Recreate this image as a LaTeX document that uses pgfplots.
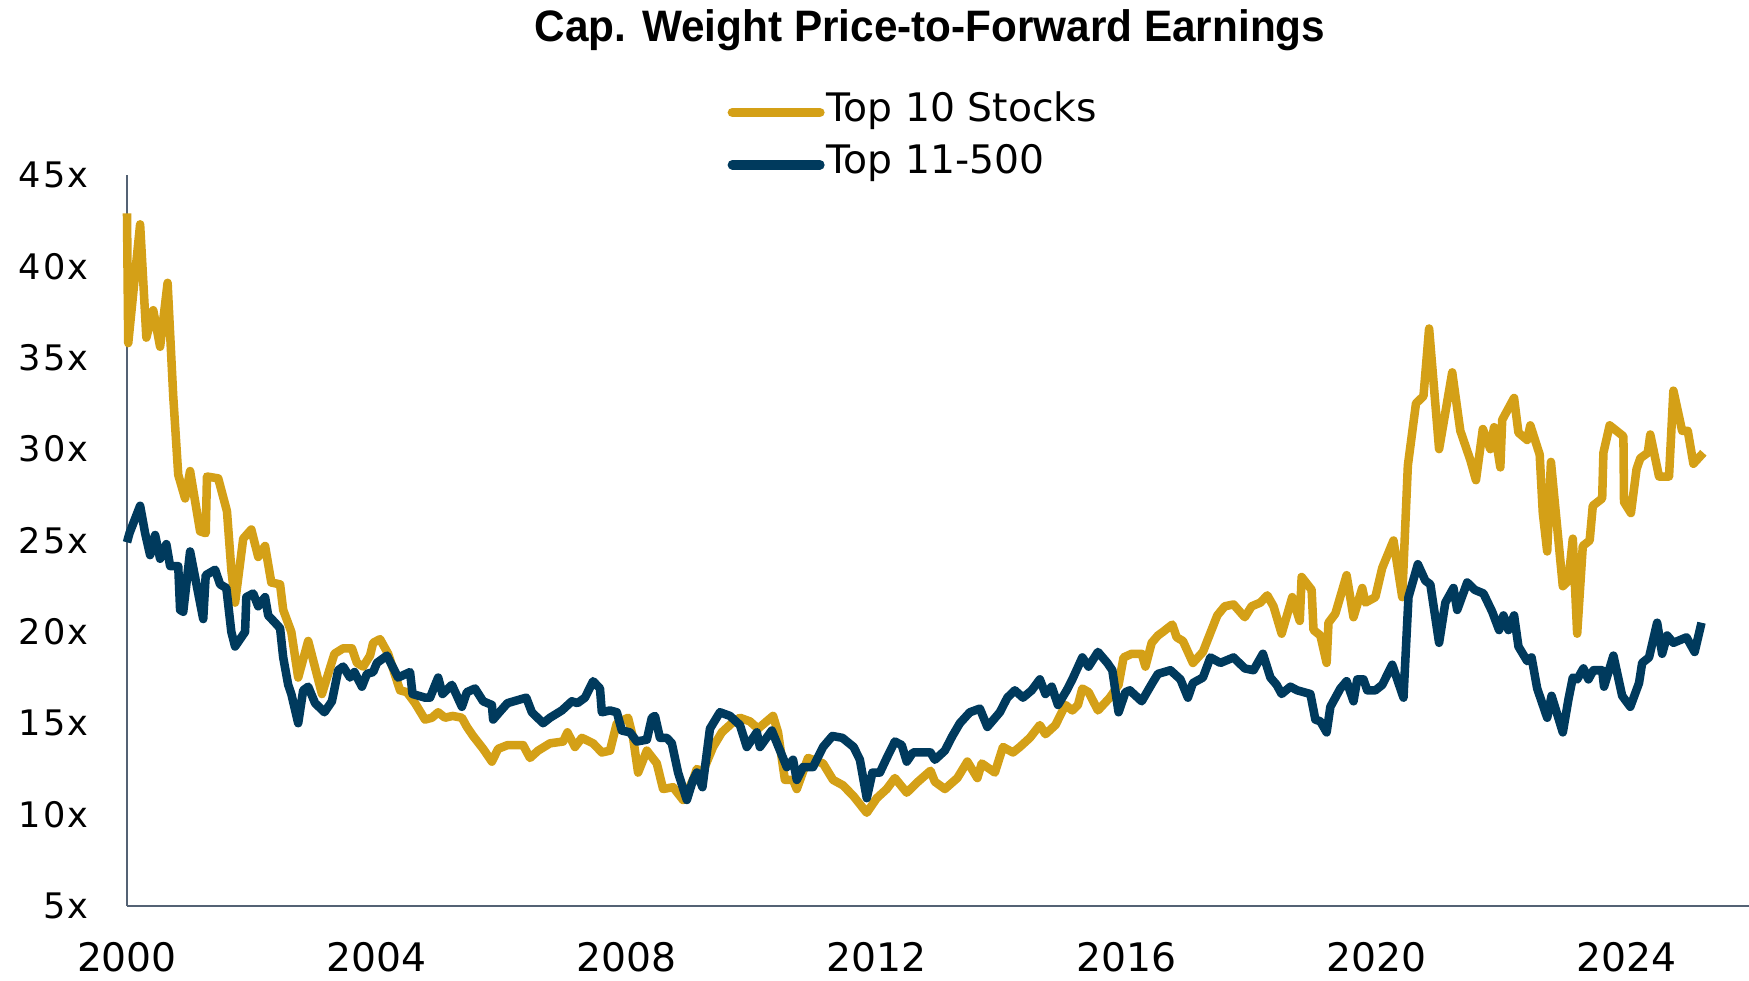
\documentclass[border=0pt]{standalone}
\usepackage{fontspec}
\setmainfont{DejaVu Sans}
\newfontfamily\titlefont[FakeStretch=0.96]{Liberation Sans}
\newfontfamily\ytickfont[LetterSpace=6]{DejaVu Sans}
\usepackage{pgfplots}
\usepackage{pgfplotstable}
\pgfplotsset{compat=1.18}

\definecolor{topten}{RGB}{212,160,23}
\definecolor{rest}{RGB}{0,58,93}
\definecolor{axisgray}{RGB}{84,98,116}

% Top 10 stocks, forward P/E
\pgfplotstableread{
year val
2000.00 42.9
2000.02 35.8
2000.21 42.3
2000.31 36.1
2000.42 37.6
2000.53 35.6
2000.65 39.1
2000.74 32.9
2000.82 28.6
2000.93 27.3
2001.01 28.8
2001.17 25.5
2001.26 25.4
2001.28 28.5
2001.46 28.4
2001.60 26.6
2001.67 23.4
2001.73 21.6
2001.86 25.1
2001.99 25.6
2002.10 24.1
2002.21 24.7
2002.31 22.7
2002.45 22.6
2002.50 21.2
2002.63 20.0
2002.74 17.5
2002.90 19.5
2003.12 16.6
2003.32 18.8
2003.46 19.1
2003.60 19.1
2003.68 18.3
2003.78 18.1
2003.89 18.7
2003.94 19.4
2004.05 19.6
2004.18 18.8
2004.37 16.8
2004.48 16.7
2004.61 16.1
2004.77 15.2
2004.88 15.3
2004.98 15.6
2005.09 15.3
2005.21 15.4
2005.36 15.3
2005.44 14.8
2005.54 14.3
2005.70 13.6
2005.84 12.9
2005.94 13.6
2006.09 13.8
2006.34 13.8
2006.45 13.1
2006.58 13.5
2006.77 13.9
2006.98 14.0
2007.05 14.5
2007.17 13.7
2007.28 14.2
2007.46 13.9
2007.60 13.4
2007.73 13.5
2007.84 15.0
2008.02 15.3
2008.10 14.2
2008.18 12.3
2008.32 13.5
2008.48 12.8
2008.58 11.4
2008.74 11.5
2008.90 10.8
2009.06 11.9
2009.12 12.5
2009.21 12.3
2009.38 13.7
2009.52 14.5
2009.68 15.0
2009.81 15.3
2009.97 15.1
2010.10 14.7
2010.34 15.4
2010.42 14.5
2010.53 11.9
2010.66 11.9
2010.72 11.4
2010.90 13.1
2011.14 12.8
2011.30 11.9
2011.46 11.6
2011.63 11.0
2011.84 10.1
2012.00 10.9
2012.16 11.4
2012.29 12.0
2012.48 11.2
2012.66 11.8
2012.86 12.4
2012.93 11.8
2013.09 11.4
2013.29 12.0
2013.45 12.9
2013.61 12.0
2013.68 12.8
2013.89 12.3
2014.02 13.7
2014.18 13.4
2014.29 13.7
2014.45 14.2
2014.61 14.9
2014.70 14.4
2014.86 14.9
2015.02 16.0
2015.13 15.7
2015.22 16.0
2015.29 16.9
2015.39 16.7
2015.54 15.7
2015.73 16.4
2015.87 17.1
2015.95 18.6
2016.08 18.8
2016.24 18.8
2016.30 18.1
2016.40 19.4
2016.50 19.8
2016.58 20.0
2016.73 20.4
2016.80 19.7
2016.90 19.5
2017.06 18.3
2017.22 18.9
2017.30 19.6
2017.45 20.9
2017.57 21.4
2017.71 21.5
2017.89 20.8
2018.00 21.4
2018.14 21.6
2018.25 22.0
2018.35 21.4
2018.48 19.9
2018.65 21.9
2018.77 20.6
2018.80 23.0
2018.96 22.3
2018.99 20.1
2019.10 19.8
2019.20 18.3
2019.23 20.5
2019.34 21.0
2019.52 23.1
2019.63 20.8
2019.77 22.4
2019.82 21.6
2019.98 21.9
2020.09 23.5
2020.27 25.0
2020.41 21.9
2020.50 29.1
2020.63 32.5
2020.75 32.9
2020.84 36.6
2021.00 30.0
2021.21 34.2
2021.34 31.0
2021.50 29.4
2021.59 28.3
2021.70 31.1
2021.82 30.0
2021.88 31.2
2021.98 29.0
2022.01 31.6
2022.20 32.8
2022.27 30.9
2022.41 30.5
2022.46 31.3
2022.61 29.7
2022.66 26.5
2022.73 24.4
2022.79 29.3
2022.98 22.5
2023.07 22.8
2023.14 25.1
2023.21 19.9
2023.30 24.7
2023.41 25.0
2023.46 26.9
2023.61 27.3
2023.63 29.8
2023.73 31.3
2023.95 30.7
2023.96 27.1
2024.07 26.5
2024.16 28.9
2024.22 29.5
2024.34 29.8
2024.38 30.8
2024.52 28.5
2024.68 28.5
2024.75 33.2
2024.89 31.0
2024.98 31.0
2025.07 29.2
2025.23 29.8
}\toptentab

% Top 11-500, forward P/E
\pgfplotstableread{
year val
2000.00 24.9
2000.04 25.4
2000.21 26.9
2000.29 25.4
2000.37 24.2
2000.45 25.3
2000.53 24.0
2000.63 24.8
2000.69 23.6
2000.82 23.6
2000.85 21.2
2000.90 21.1
2001.01 24.4
2001.22 20.7
2001.26 23.1
2001.41 23.4
2001.49 22.6
2001.59 22.4
2001.67 20.0
2001.73 19.2
2001.89 20.0
2001.91 21.9
2002.02 22.1
2002.10 21.4
2002.21 21.9
2002.26 20.9
2002.37 20.5
2002.45 20.2
2002.50 18.6
2002.58 17.1
2002.63 16.6
2002.74 15.0
2002.82 16.8
2002.90 17.0
2003.01 16.1
2003.16 15.6
2003.28 16.2
2003.38 17.9
2003.46 18.1
2003.57 17.5
2003.64 17.8
2003.76 17.0
2003.84 17.7
2003.94 17.8
2004.00 18.3
2004.16 18.7
2004.34 17.5
2004.53 17.8
2004.57 16.6
2004.77 16.4
2004.85 16.4
2004.98 17.5
2005.05 16.6
2005.20 17.1
2005.36 15.9
2005.44 16.7
2005.57 16.9
2005.70 16.2
2005.84 16.0
2005.86 15.2
2005.96 15.6
2006.09 16.1
2006.29 16.3
2006.39 16.4
2006.48 15.6
2006.66 15.0
2006.77 15.3
2006.96 15.7
2007.12 16.2
2007.21 16.1
2007.33 16.4
2007.46 17.3
2007.57 16.9
2007.60 15.6
2007.73 15.7
2007.84 15.6
2007.92 14.6
2008.05 14.5
2008.16 14.0
2008.32 14.1
2008.40 15.3
2008.45 15.4
2008.53 14.2
2008.64 14.2
2008.72 13.9
2008.82 12.3
2008.96 10.8
2009.06 11.9
2009.12 12.3
2009.21 11.5
2009.33 14.7
2009.49 15.6
2009.65 15.4
2009.81 14.9
2009.92 13.7
2010.08 14.5
2010.13 13.7
2010.32 14.6
2010.56 12.6
2010.66 13.0
2010.72 11.9
2010.82 12.6
2010.98 12.6
2011.14 13.7
2011.29 14.3
2011.45 14.2
2011.63 13.7
2011.73 13.0
2011.84 10.9
2011.93 12.3
2012.05 12.3
2012.16 13.1
2012.29 14.0
2012.40 13.8
2012.48 12.9
2012.58 13.4
2012.86 13.4
2012.93 13.0
2013.09 13.5
2013.21 14.3
2013.33 15.0
2013.49 15.6
2013.65 15.8
2013.77 14.8
2013.97 15.6
2014.09 16.4
2014.21 16.8
2014.34 16.4
2014.48 16.8
2014.61 17.4
2014.70 16.6
2014.80 17.0
2014.90 16.0
2015.04 16.8
2015.13 17.4
2015.29 18.6
2015.39 18.1
2015.54 18.9
2015.69 18.3
2015.77 17.9
2015.87 15.6
2015.98 16.7
2016.05 16.8
2016.24 16.2
2016.41 17.2
2016.50 17.7
2016.70 17.9
2016.86 17.4
2016.98 16.4
2017.06 17.2
2017.22 17.5
2017.34 18.6
2017.50 18.3
2017.71 18.6
2017.89 18.0
2018.03 17.9
2018.18 18.8
2018.30 17.5
2018.40 17.1
2018.48 16.6
2018.62 17.0
2018.73 16.8
2018.94 16.6
2019.02 15.2
2019.10 15.1
2019.20 14.5
2019.26 15.9
2019.42 16.9
2019.52 17.3
2019.63 16.2
2019.69 17.4
2019.79 17.4
2019.85 16.8
2019.98 16.8
2020.09 17.1
2020.25 18.2
2020.43 16.4
2020.51 21.9
2020.66 23.7
2020.78 22.8
2020.86 22.6
2021.00 19.4
2021.10 21.6
2021.23 22.4
2021.29 21.2
2021.45 22.7
2021.57 22.3
2021.71 22.1
2021.85 21.1
2021.96 20.1
2022.03 20.9
2022.11 20.1
2022.20 20.9
2022.27 19.2
2022.41 18.4
2022.48 18.6
2022.57 16.9
2022.73 15.3
2022.80 16.5
2022.98 14.5
2023.07 16.3
2023.14 17.5
2023.21 17.4
2023.31 18.0
2023.39 17.4
2023.47 17.9
2023.61 17.9
2023.64 17.0
2023.79 18.7
2023.93 16.5
2024.06 15.9
2024.20 17.2
2024.25 18.3
2024.36 18.6
2024.49 20.5
2024.57 18.8
2024.65 19.8
2024.75 19.4
2024.96 19.7
2025.09 18.9
2025.20 20.5
}\resttab

\begin{document}
\begin{tikzpicture}
\begin{axis}[
  width=16.693cm, height=7.523cm, scale only axis,
  xmin=2000, xmax=2025.96, ymin=5, ymax=45,
  axis x line=bottom, axis y line=left,
  axis line style={-, draw=axisgray, line width=0.8pt},
  major tick length=0pt,
  xtick={2000,2004,2008,2012,2016,2020,2024},
  xticklabels={2000,2004,2008,2012,2016,2020,2024},
  ytick={5,10,15,20,25,30,35,40,45},
  yticklabels={5x,10x,15x,20x,25x,30x,35x,40x,45x},
  xticklabel style={font=\fontsize{11.5}{13}\selectfont, anchor=north, inner sep=0pt, yshift=-0.37cm},
  yticklabel style={font=\ytickfont\fontsize{10.3}{12}\selectfont, anchor=east, inner sep=0pt, xshift=-0.391cm},
  clip=false,
  legend cell align=left,
  legend style={at={(rel axis cs:0.3703,1.1088)}, anchor=north west,
    draw=none, fill=none, inner sep=0pt, outer sep=0pt,
    row sep=0.191cm, column sep=0.02cm,
    font=\fontsize{11.5}{13}\selectfont,
    nodes={inner sep=0pt, text height=0.75em, text depth=0.24em}},
  legend image code/.code={\draw[#1, line width=2.8pt, line cap=round] (0cm,0cm) -- (0.9cm,0cm);},
]
\addplot[topten, line width=2.5pt, line join=round] table[x=year, y=val] {\toptentab};
\addlegendentry{Top 10 Stocks}
\addplot[rest, line width=2.5pt, line join=round] table[x=year, y=val] {\resttab};
\addlegendentry{Top 11-500}

\node[anchor=base, font=\titlefont\bfseries\fontsize{12.9}{15}\selectfont]
  at (rel axis cs:0.4951,1.1824) {Cap. Weight Price-to-Forward Earnings};
\end{axis}
\pgfresetboundingbox
\path[use as bounding box] (-1.307,-0.762) rectangle (16.693,9.324);
\end{tikzpicture}
\end{document}
